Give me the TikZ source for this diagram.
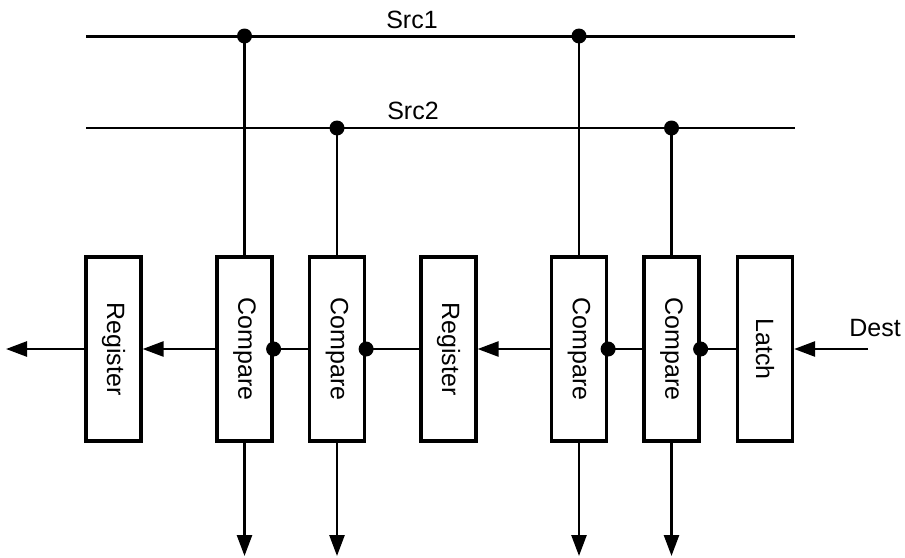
\documentclass[tikz,border=0pt]{standalone}
\usepackage{fontspec}
\setmainfont{Liberation Sans}
\usetikzlibrary{arrows.meta}
\begin{document}
\begin{tikzpicture}[x=1pt,y=-1pt,
  blk/.style={draw,line width=3.2pt,minimum width=55pt,minimum height=184pt,inner sep=0pt},
  lbl/.style={font=\fontsize{25}{28}\selectfont,rotate=-90},
  wire/.style={line width=2.6pt},
  bus/.style={line width=3pt},
  arr/.style={wire,-{Triangle[length=21pt,width=15pt]}},
  dot/.style={circle,fill=black,inner sep=0pt,minimum size=15pt}]
\useasboundingbox (0,0) rectangle (905,557);
% boxes
\node[blk] (r1) at (113.5,349) {}; \node[lbl] at (r1) {Register};
\node[blk] (c1) at (244.5,349) {}; \node[lbl] at (c1) {Compare};
\node[blk] (c2) at (337,349) {};   \node[lbl] at (c2) {Compare};
\node[blk] (r2) at (448.5,349) {}; \node[lbl] at (r2) {Register};
\node[blk] (c3) at (579,349) {};   \node[lbl] at (c3) {Compare};
\node[blk] (c4) at (671.5,349) {}; \node[lbl] at (c4) {Compare};
\node[blk] (la) at (765,349) {};   \node[lbl] at (la) {Latch};
% buses
\coordinate (s1l) at (86,36); \coordinate (s1r) at (795,36);
\coordinate (s2l) at (86,128); \coordinate (s2r) at (795,128);
\draw[bus] (s1l) -- (s1r);
\draw[wire] (s2l) -- (s2r);
\node[font=\fontsize{25}{28}\selectfont] (t1) at (412,20) {Src1};
\node[font=\fontsize{25}{28}\selectfont] (t2) at (413,111) {Src2};
% taps
\coordinate (j1) at (c1.north |- s1l);
\coordinate (j2) at (c2.north |- s2l);
\coordinate (j3) at (c3.north |- s1l);
\coordinate (j4) at (c4.north |- s2l);
\draw[wire] (j1) -- (c1.north);
\draw[wire] (j2) -- (c2.north);
\draw[wire] (j3) -- (c3.north);
\draw[wire] (j4) -- (c4.north);
\node[dot] at (j1) {}; \node[dot] at (j2) {};
\node[dot] at (j3) {}; \node[dot] at (j4) {};
% outputs down
\coordinate (o1) at (c1.south |- 0,556);
\coordinate (o2) at (c2.south |- 0,556);
\coordinate (o3) at (c3.south |- 0,556);
\coordinate (o4) at (c4.south |- 0,556);
\draw[arr] (c1.south) -- (o1);
\draw[arr] (c2.south) -- (o2);
\draw[arr] (c3.south) -- (o3);
\draw[arr] (c4.south) -- (o4);
% horizontal chain
\coordinate (out) at (6,349);
\coordinate (din) at (868,349);
\draw[arr] (r1.west) -- (out);
\draw[arr] (c1.west) -- (r1.east);
\draw[wire] (c2.west) -- (c1.east);
\draw[wire] (r2.west) -- (c2.east);
\draw[arr] (c3.west) -- (r2.east);
\draw[wire] (c4.west) -- (c3.east);
\draw[wire] (la.west) -- (c4.east);
\draw[arr] (din) -- (la.east);
\node[dot] at (c1.east) {};
\node[dot] at (c2.east) {};
\node[dot] at (c3.east) {};
\node[dot] at (c4.east) {};
\node[font=\fontsize{25}{28}\selectfont] (dl) at (875,328) {Dest};
\end{tikzpicture}
\end{document}
